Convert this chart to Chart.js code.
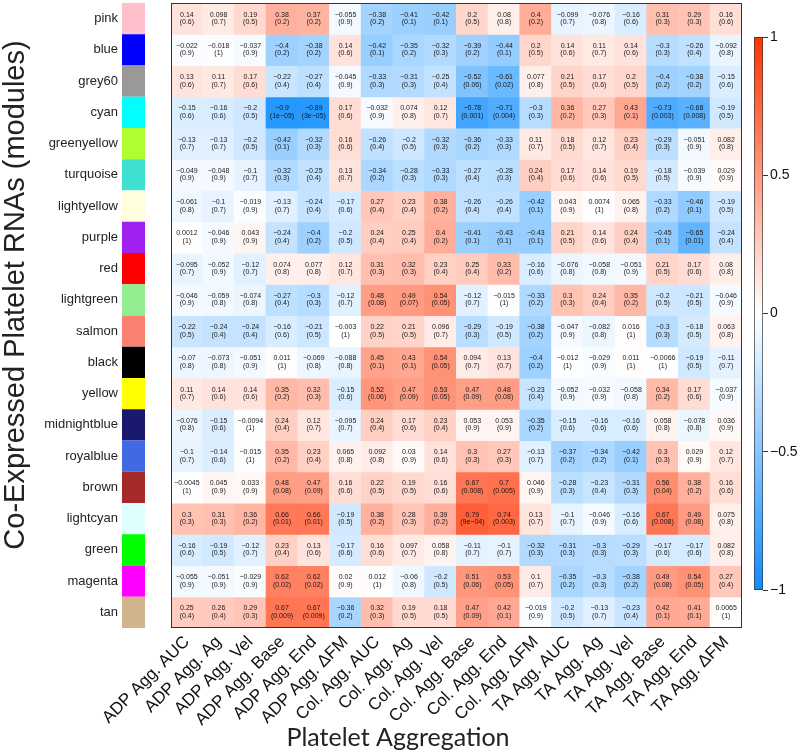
<!DOCTYPE html>
<html><head><meta charset="utf-8">
<script src="https://cdn.jsdelivr.net/npm/chart.js@4.4.1/dist/chart.umd.min.js"></script>
<style>
html,body{margin:0;padding:0;background:#fff;}
#wrap{position:relative;width:800px;height:753px;}
canvas{position:absolute;top:0;left:0;}
</style>
</head><body>
<div id="wrap">
<canvas id="main" width="800" height="753"></canvas>
<canvas id="cb" width="55" height="753" style="left:745px"></canvas>
</div>
<script>
const columns = ['ADP Agg. AUC','ADP Agg. Ag','ADP Agg. Vel','ADP Agg. Base','ADP Agg. End','ADP Agg. ΔFM',
  'Col. Agg. AUC','Col. Agg. Ag','Col. Agg. Vel','Col. Agg. Base','Col. Agg. End','Col. Agg. ΔFM',
  'TA Agg. AUC','TA Agg. Ag','TA Agg. Vel','TA Agg. Base','TA Agg. End','TA Agg. ΔFM'];
const modules = ['pink','blue','grey60','cyan','greenyellow','turquoise','lightyellow','purple','red','lightgreen',
  'salmon','black','yellow','midnightblue','royalblue','brown','lightcyan','green','magenta','tan'];
const moduleColors = ['#FFC0CB','#0000FF','#999999','#00FFFF','#ADFF2F','#40E0D0','#FFFFE0','#A020F0','#FF0000','#90EE90',
  '#FA8072','#000000','#FFFF00','#191970','#4169E1','#A52A2A','#E0FFFF','#00FF00','#FF00FF','#D2B48C'];
const corr = [
  [0.14,0.098,0.19,0.38,0.37,-0.055,-0.38,-0.41,-0.42,0.2,0.08,0.4,-0.099,-0.076,-0.16,0.31,0.29,0.16],
  [-0.022,-0.018,-0.037,-0.4,-0.38,0.14,-0.42,-0.35,-0.32,-0.39,-0.44,0.2,0.14,0.11,0.14,-0.3,-0.26,-0.092],
  [0.13,0.11,0.17,-0.22,-0.27,-0.045,-0.33,-0.31,-0.25,-0.52,-0.61,0.077,0.21,0.17,0.2,-0.4,-0.38,-0.15],
  [-0.15,-0.16,-0.2,-0.9,-0.89,0.17,-0.032,0.074,0.12,-0.78,-0.71,-0.3,0.36,0.27,0.43,-0.73,-0.68,-0.19],
  [-0.13,-0.13,-0.2,-0.42,-0.32,0.16,-0.26,-0.2,-0.32,-0.36,-0.33,0.11,0.18,0.12,0.23,-0.29,-0.051,0.082],
  [-0.049,-0.048,-0.1,-0.32,-0.25,0.13,-0.34,-0.28,-0.33,-0.27,-0.28,0.24,0.17,0.14,0.19,-0.18,-0.039,0.029],
  [-0.061,-0.1,-0.019,-0.13,-0.24,-0.17,0.27,0.23,0.38,-0.26,-0.26,-0.42,0.043,0.0074,0.065,-0.33,-0.46,-0.19],
  [0.0012,-0.046,0.043,-0.24,-0.4,-0.2,0.24,0.25,0.4,-0.41,-0.43,-0.43,0.21,0.14,0.24,-0.45,-0.65,-0.24],
  [-0.095,-0.052,-0.12,0.074,0.077,0.12,0.31,0.32,0.23,0.25,0.33,-0.16,-0.076,-0.058,-0.051,0.21,0.17,0.08],
  [-0.046,-0.059,-0.074,-0.27,-0.3,-0.12,0.48,0.49,0.54,-0.12,-0.015,-0.33,0.3,0.24,0.35,-0.2,-0.21,-0.046],
  [-0.22,-0.24,-0.24,-0.16,-0.21,-0.003,0.22,0.21,0.096,-0.29,-0.19,-0.38,-0.047,-0.082,0.016,-0.3,-0.18,0.063],
  [-0.07,-0.073,-0.051,0.011,-0.069,-0.088,0.45,0.43,0.54,0.094,0.13,-0.4,-0.012,-0.029,0.011,-0.0066,-0.19,-0.11],
  [0.11,0.14,0.14,0.35,0.32,-0.15,0.52,0.47,0.53,0.47,0.48,-0.23,-0.052,-0.032,-0.058,0.34,0.17,-0.037],
  [-0.076,-0.15,-0.0094,0.24,0.12,-0.095,0.24,0.17,0.23,0.053,0.053,-0.35,-0.15,-0.16,-0.16,0.058,-0.078,0.036],
  [-0.1,-0.14,-0.015,0.35,0.23,0.065,0.092,0.03,0.14,0.3,0.27,-0.13,-0.37,-0.34,-0.42,0.3,0.029,0.12],
  [-0.0045,0.045,0.033,0.48,0.47,0.16,0.22,0.19,0.16,0.67,0.7,0.046,-0.28,-0.23,-0.31,0.56,0.38,0.16],
  [0.3,0.31,0.36,0.66,0.66,-0.19,0.38,0.28,0.39,0.79,0.74,0.13,-0.1,-0.046,-0.16,0.67,0.49,0.075],
  [-0.16,-0.19,-0.12,0.23,0.13,-0.17,0.16,0.097,0.058,-0.11,-0.1,-0.32,-0.31,-0.3,-0.29,-0.17,-0.17,0.082],
  [-0.055,-0.051,-0.029,0.62,0.62,0.02,0.012,-0.06,-0.2,0.51,0.53,0.1,-0.35,-0.3,-0.38,0.49,0.54,0.27],
  [0.25,0.26,0.29,0.67,0.67,-0.36,0.32,0.19,0.18,0.47,0.42,-0.019,-0.2,-0.13,-0.23,0.42,0.41,0.0065]
];
const pval = [
  [0.6,0.7,0.5,0.2,0.2,0.9,0.2,0.1,0.1,0.5,0.8,0.2,0.7,0.8,0.6,0.3,0.3,0.6],
  [0.9,1,0.9,0.2,0.2,0.6,0.1,0.2,0.3,0.2,0.1,0.5,0.6,0.7,0.6,0.3,0.4,0.8],
  [0.6,0.7,0.6,0.4,0.4,0.9,0.3,0.3,0.4,0.06,0.02,0.8,0.5,0.6,0.5,0.2,0.2,0.6],
  [0.6,0.6,0.5,1e-05,3e-05,0.6,0.9,0.8,0.7,0.001,0.004,0.3,0.2,0.3,0.1,0.003,0.008,0.5],
  [0.7,0.7,0.5,0.1,0.3,0.6,0.4,0.5,0.3,0.2,0.3,0.7,0.5,0.7,0.4,0.3,0.9,0.8],
  [0.9,0.9,0.7,0.3,0.4,0.7,0.2,0.3,0.3,0.4,0.3,0.4,0.6,0.6,0.5,0.5,0.9,0.9],
  [0.8,0.7,0.9,0.7,0.4,0.6,0.4,0.4,0.2,0.4,0.4,0.1,0.9,1,0.8,0.2,0.1,0.5],
  [1,0.9,0.9,0.4,0.2,0.5,0.4,0.4,0.2,0.1,0.1,0.1,0.5,0.6,0.4,0.1,0.01,0.4],
  [0.7,0.9,0.7,0.8,0.8,0.7,0.3,0.3,0.4,0.4,0.2,0.6,0.8,0.8,0.9,0.5,0.6,0.8],
  [0.9,0.8,0.8,0.4,0.3,0.7,0.08,0.07,0.05,0.7,1,0.2,0.3,0.4,0.2,0.5,0.5,0.9],
  [0.5,0.4,0.4,0.6,0.5,1,0.5,0.5,0.7,0.3,0.5,0.2,0.9,0.8,1,0.3,0.5,0.8],
  [0.8,0.8,0.9,1,0.8,0.8,0.1,0.1,0.05,0.7,0.7,0.2,1,0.9,1,1,0.5,0.7],
  [0.7,0.6,0.6,0.2,0.3,0.6,0.06,0.09,0.05,0.09,0.08,0.4,0.9,0.9,0.8,0.2,0.6,0.9],
  [0.8,0.6,1,0.4,0.7,0.7,0.4,0.6,0.4,0.9,0.9,0.2,0.6,0.6,0.6,0.8,0.8,0.9],
  [0.7,0.6,1,0.2,0.4,0.8,0.8,0.9,0.6,0.3,0.3,0.7,0.2,0.2,0.1,0.3,0.9,0.7],
  [1,0.9,0.9,0.08,0.09,0.6,0.5,0.5,0.6,0.008,0.005,0.9,0.3,0.4,0.3,0.04,0.2,0.6],
  [0.3,0.3,0.2,0.01,0.01,0.5,0.2,0.3,0.2,9e-04,0.003,0.7,0.7,0.9,0.6,0.008,0.08,0.8],
  [0.6,0.5,0.7,0.4,0.6,0.6,0.6,0.7,0.8,0.7,0.7,0.3,0.3,0.3,0.3,0.6,0.6,0.8],
  [0.9,0.9,0.9,0.02,0.02,0.9,1,0.8,0.5,0.06,0.05,0.7,0.2,0.3,0.2,0.08,0.05,0.4],
  [0.4,0.4,0.3,0.009,0.009,0.2,0.3,0.5,0.5,0.09,0.1,0.9,0.5,0.7,0.4,0.1,0.1,1]
];
const colorbarTicks = [1, 0.5, 0, -0.5, -1];
const xTitle = 'Platelet Aggregation';
const yTitle = 'Co-Expressed Platelet RNAs (modules)';

const BLUE_END = [13, 140, 255];
const RED_END = [255, 51, 0];
function heatColor(v) {
  const end = v < 0 ? BLUE_END : RED_END;
  const t = Math.min(1, Math.abs(v));
  const c = end.map(e => Math.round(255 + (e - 255) * t));
  return 'rgb(' + c.join(',') + ')';
}
function fmt(v) {
  const fixed = String(v);
  const parts = v.toExponential().split('e');
  const e = parseInt(parts[1], 10);
  const sci = parts[0] + 'e' + (e < 0 ? '-' : '+') + String(Math.abs(e)).padStart(2, '0');
  const s = sci.length < fixed.length ? sci : fixed;
  return s.replace(/-/g, '\u2212');
}
function noPad(s) { s.paddingTop = 0; s.paddingBottom = 0; s.paddingLeft = 0; s.paddingRight = 0; }

Chart.defaults.font.family = '"Liberation Sans", Arial, sans-serif';

const heatExtras = {
  id: 'heatExtras',
  afterDatasetsDraw(chart) {
    const { ctx, chartArea, scales: { y } } = chart;
    ctx.save();
    ctx.textAlign = 'center';
    ctx.textBaseline = 'middle';
    ctx.font = '7px "Liberation Sans", Arial, sans-serif';
    modules.forEach((m, r) => {
      const meta = chart.getDatasetMeta(r);
      ctx.fillStyle = '#1a1a1a';
      meta.data.forEach((el, c) => {
        const cy = (el.y + el.base) / 2;
        ctx.fillText(fmt(corr[r][c]), el.x, cy - 4);
        ctx.fillText('(' + fmt(pval[r][c]) + ')', el.x, cy + 3.5);
      });
      const y0 = y.getPixelForValue(r), y1 = y.getPixelForValue(r + 1);
      ctx.fillStyle = moduleColors[r];
      ctx.fillRect(122, y0, 23, y1 - y0);
    });
    ctx.strokeStyle = '#333';
    ctx.lineWidth = 1;
    ctx.strokeRect(chartArea.left + 0.5, chartArea.top + 0.5, chartArea.width - 1, chartArea.height - 1);
    ctx.fillStyle = '#222';
    ctx.font = '25px Lato, "Open Sans", sans-serif';
    ctx.textAlign = 'center';
    ctx.textBaseline = 'middle';
    ctx.fillText(xTitle, 398, 738);
    ctx.save();
    ctx.translate(24, 295);
    ctx.rotate(-Math.PI / 2);
    ctx.font = '29px "Liberation Sans", Arial, sans-serif';
    ctx.textBaseline = 'alphabetic';
    ctx.fillText(yTitle, 0, 0);
    ctx.restore();
    ctx.restore();
  }
};

const datasets = modules.map((m, r) => ({
  label: m,
  data: columns.map(() => [r, r + 1]),
  backgroundColor: corr[r].map(heatColor),
  borderWidth: 0,
  grouped: false,
  barPercentage: 1,
  categoryPercentage: 1,
  inflateAmount: 0.5
}));

new Chart(document.getElementById('main'), {
  type: 'bar',
  data: { labels: columns, datasets },
  plugins: [heatExtras],
  options: {
    responsive: false,
    animation: false,
    devicePixelRatio: 1,
    layout: { autoPadding: false, padding: { top: 3, right: 58, bottom: 0, left: 0 } },
    plugins: { legend: { display: false }, tooltip: { enabled: false } },
    scales: {
      x: {
        type: 'category',
        offset: true,
        grid: { display: false, drawTicks: false },
        border: { display: false },
        ticks: { autoSkip: false, maxRotation: 45, minRotation: 45, font: { size: 17 }, color: '#111', padding: 4 },
        afterFit(s) { s.height = 125; noPad(s); }
      },
      y: {
        type: 'linear',
        min: 0, max: 20,
        reverse: true,
        grid: { display: false, drawTicks: false },
        border: { display: false },
        afterBuildTicks(s) { s.ticks = modules.map((_, i) => ({ value: i + 0.5 })); },
        ticks: { autoSkip: false, callback: (v, i) => modules[i], font: { size: 13 }, color: '#222', padding: 53 },
        afterFit(s) { s.width = 171; noPad(s); }
      }
    }
  }
});

const cbChart = new Chart(document.getElementById('cb'), {
  type: 'bar',
  data: {
    labels: [''],
    datasets: [{
      data: [[-1, 1]],
      backgroundColor: '#ffffff',
      borderColor: '#333',
      borderWidth: 1,
      borderSkipped: false,
      barPercentage: 1,
      categoryPercentage: 1
    }]
  },
  options: {
    responsive: false,
    animation: false,
    devicePixelRatio: 1,
    layout: { autoPadding: false, padding: { top: 37, bottom: 163, left: 9, right: 0 } },
    plugins: { legend: { display: false }, tooltip: { enabled: false } },
    scales: {
      x: { display: false },
      y: {
        position: 'right',
        min: -1, max: 1,
        afterBuildTicks(s) { s.ticks = colorbarTicks.map(v => ({ value: v })); },
        ticks: { callback: v => String(v).replace('-', '\u2212'), font: { size: 14 }, color: '#111', padding: 2 },
        grid: { drawOnChartArea: false, drawTicks: true, tickLength: 5, color: '#333' },
        border: { display: false },
        afterFit(s) { s.width = 37; noPad(s); }
      }
    }
  }
});
const ys = cbChart.scales.y;
const grad = cbChart.ctx.createLinearGradient(0, ys.getPixelForValue(1), 0, ys.getPixelForValue(-1));
grad.addColorStop(0, heatColor(1));
grad.addColorStop(0.5, heatColor(0));
grad.addColorStop(1, heatColor(-1));
cbChart.data.datasets[0].backgroundColor = grad;
cbChart.update();
</script>
</body></html>
